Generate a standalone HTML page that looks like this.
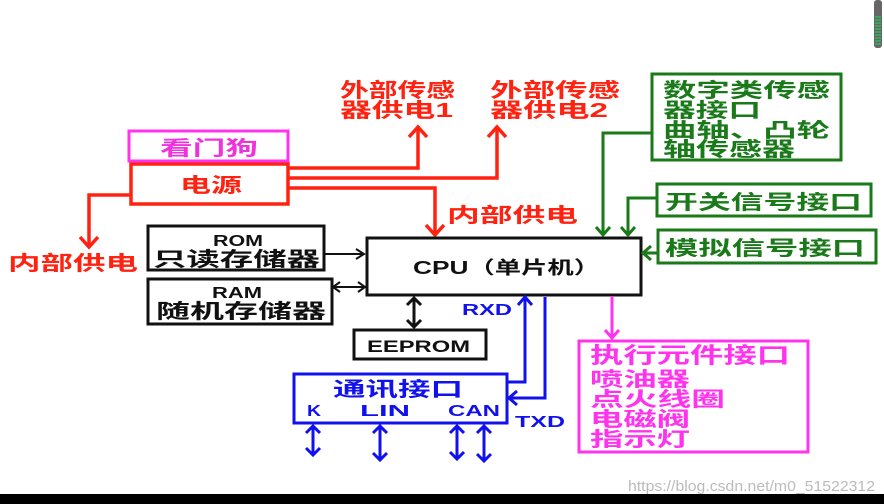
<!DOCTYPE html>
<html><head><meta charset="utf-8"><style>
html,body{margin:0;padding:0;background:#fff;width:884px;height:504px;overflow:hidden}
svg{display:block}
text{font-family:"Liberation Sans","Noto Sans CJK SC",sans-serif;font-weight:bold}
</style></head><body>
<svg width="884" height="504" viewBox="0 0 884 504" xmlns="http://www.w3.org/2000/svg">
<rect x="0" y="0" width="884" height="504" fill="#fff"/>
<!-- scrollbar -->
<rect x="874" y="0" width="8" height="48" rx="3" fill="#666"/>
<g stroke="#2c5" stroke-width="1.2"><line x1="875" y1="17" x2="881" y2="17"/><line x1="875" y1="20" x2="881" y2="20"/><line x1="875" y1="23" x2="881" y2="23"/><line x1="875" y1="26" x2="881" y2="26"/><line x1="875" y1="29" x2="881" y2="29"/><line x1="875" y1="32" x2="881" y2="32"/><line x1="875" y1="35" x2="881" y2="35"/><line x1="875" y1="38" x2="881" y2="38"/><line x1="875" y1="41" x2="881" y2="41"/><line x1="875" y1="44" x2="881" y2="44"/></g>
<rect x="0" y="494" width="884" height="10" fill="#000"/>

<!-- red -->
<g fill="none" stroke="#f21" stroke-width="3.5">
<rect x="131" y="164" width="157" height="40"/>
<polyline points="288,168 418,168 418,128"/>
<polyline points="409,137 418,127 427,137"/>
<polyline points="288,178 497,178 497,128"/>
<polyline points="488,137 497,127 506,137"/>
<polyline points="288,188 435,188 435,234"/>
<polyline points="426,225 435,235 444,225"/>
<polyline points="131,195 89,195 89,246"/>
<polyline points="80,237 89,247 98,237"/>
</g>
<g fill="#f21" font-size="20">
<text x="340" y="97" textLength="115" lengthAdjust="spacingAndGlyphs">外部传感</text>
<text x="340" y="117" textLength="113" lengthAdjust="spacingAndGlyphs">器供电1</text>
<text x="490" y="97" textLength="130" lengthAdjust="spacingAndGlyphs">外部传感</text>
<text x="490" y="117" textLength="118" lengthAdjust="spacingAndGlyphs">器供电2</text>
<text x="180" y="192" textLength="62" lengthAdjust="spacingAndGlyphs">电源</text>
<text x="447" y="222" textLength="131" lengthAdjust="spacingAndGlyphs">内部供电</text>
<text x="8" y="270" textLength="130" lengthAdjust="spacingAndGlyphs">内部供电</text>
</g>
<!-- watchdog -->
<rect x="129" y="131" width="159" height="30" fill="none" stroke="#f3e" stroke-width="3"/>
<text x="160" y="155" font-size="20" fill="#e3d" textLength="98" lengthAdjust="spacingAndGlyphs">看门狗</text>

<!-- black -->
<g fill="none" stroke="#111" stroke-width="3">
<rect x="148" y="226" width="176" height="44"/>
<rect x="148" y="279" width="184" height="45"/>
<rect x="367" y="238" width="274" height="57"/>
<rect x="354" y="330" width="132" height="29"/>
</g>
<g fill="none" stroke="#111" stroke-width="2">
<line x1="324" y1="254" x2="364" y2="254"/><polyline points="356,249 364,254 356,259"/>
<line x1="332" y1="287" x2="366" y2="287"/><polyline points="340,282 333,287 340,292"/><polyline points="358,282 365,287 358,292"/>
</g>
<g fill="none" stroke="#111" stroke-width="3">
<line x1="414" y1="298" x2="414" y2="327"/><polyline points="407,305 414,298 421,305"/><polyline points="407,320 414,327 421,320"/>
</g>
<g fill="#111">
<text x="213" y="246" font-size="16" textLength="50" lengthAdjust="spacingAndGlyphs">ROM</text>
<text x="153" y="266" font-size="20" textLength="167" lengthAdjust="spacingAndGlyphs">只读存储器</text>
<text x="212" y="298" font-size="16" textLength="50" lengthAdjust="spacingAndGlyphs">RAM</text>
<text x="156" y="318" font-size="20" textLength="170" lengthAdjust="spacingAndGlyphs">随机存储器</text>
<text x="413" y="274" font-size="18" textLength="187" lengthAdjust="spacingAndGlyphs">CPU（单片机）</text>
<text x="367" y="352" font-size="17" textLength="103" lengthAdjust="spacingAndGlyphs">EEPROM</text>
</g>

<!-- green -->
<g fill="none" stroke="#1a7a1a" stroke-width="3">
<rect x="652" y="74" width="189" height="86"/>
<rect x="657" y="184" width="214" height="32"/>
<rect x="658" y="230" width="218" height="33"/>
<polyline points="652,133 603,133 603,235"/>
<polyline points="596,227 603,235 610,227"/>
<polyline points="657,198 628,198 628,235"/>
<polyline points="621,227 628,235 635,227"/>
<line x1="658" y1="253" x2="643" y2="253"/>
<polyline points="651,246 643,253 651,260"/>
</g>
<g fill="#1a7a1a" font-size="20">
<text x="663" y="97" textLength="167" lengthAdjust="spacingAndGlyphs">数字类传感</text>
<text x="663" y="117" textLength="98" lengthAdjust="spacingAndGlyphs">器接口</text>
<text x="663" y="137" textLength="167" lengthAdjust="spacingAndGlyphs">曲轴、凸轮</text>
<text x="663" y="156" textLength="132" lengthAdjust="spacingAndGlyphs">轴传感器</text>
<text x="665" y="209" textLength="197" lengthAdjust="spacingAndGlyphs">开关信号接口</text>
<text x="665" y="255" textLength="200" lengthAdjust="spacingAndGlyphs">模拟信号接口</text>
</g>

<!-- magenta -->
<g fill="none" stroke="#f3e" stroke-width="3">
<rect x="579" y="341" width="229" height="111"/>
<line x1="612" y1="296" x2="612" y2="338"/>
<polyline points="605,330 612,338 619,330"/>
</g>
<g fill="#f3e" font-size="20">
<text x="590" y="363" font-size="22" textLength="200" lengthAdjust="spacingAndGlyphs">执行元件接口</text>
<text x="590" y="386" textLength="100" lengthAdjust="spacingAndGlyphs">喷油器</text>
<text x="590" y="406" textLength="135" lengthAdjust="spacingAndGlyphs">点火线圈</text>
<text x="590" y="426" textLength="100" lengthAdjust="spacingAndGlyphs">电磁阀</text>
<text x="590" y="446" textLength="100" lengthAdjust="spacingAndGlyphs">指示灯</text>
</g>

<!-- blue -->
<g fill="none" stroke="#11e" stroke-width="3">
<rect x="294" y="374" width="213" height="49"/>
<polyline points="507,382 525,382 525,298"/>
<polyline points="518,305 525,297 532,305"/>
<polyline points="545,297 545,398 509,398"/>
<polyline points="517,391 509,398 517,405"/>
<line x1="313" y1="426" x2="313" y2="455"/><polyline points="306,433 313,426 320,433"/><polyline points="306,448 313,455 320,448"/>
<line x1="380" y1="426" x2="380" y2="460"/><polyline points="373,433 380,426 387,433"/><polyline points="373,453 380,460 387,453"/>
<line x1="457" y1="426" x2="457" y2="459"/><polyline points="450,433 457,426 464,433"/><polyline points="450,452 457,459 464,452"/>
<line x1="484" y1="426" x2="484" y2="461"/><polyline points="477,433 484,426 491,433"/><polyline points="477,454 484,461 491,454"/>
</g>
<g fill="#11e">
<text x="333" y="396" font-size="20" textLength="130" lengthAdjust="spacingAndGlyphs">通讯接口</text>
<text x="307" y="416" font-size="16" textLength="14" lengthAdjust="spacingAndGlyphs">K</text>
<text x="360" y="416" font-size="16" textLength="50" lengthAdjust="spacingAndGlyphs">LIN</text>
<text x="448" y="416" font-size="16" textLength="52" lengthAdjust="spacingAndGlyphs">CAN</text>
<text x="462" y="315" font-size="16" textLength="50" lengthAdjust="spacingAndGlyphs">RXD</text>
<text x="515" y="427" font-size="16" textLength="50" lengthAdjust="spacingAndGlyphs">TXD</text>
</g>
<text x="628" y="491" font-size="15" font-weight="normal" fill="#bbb" style="font-weight:normal" textLength="247" lengthAdjust="spacingAndGlyphs">https://blog.csdn.net/m0_51522312</text>
</svg>
</body></html>
